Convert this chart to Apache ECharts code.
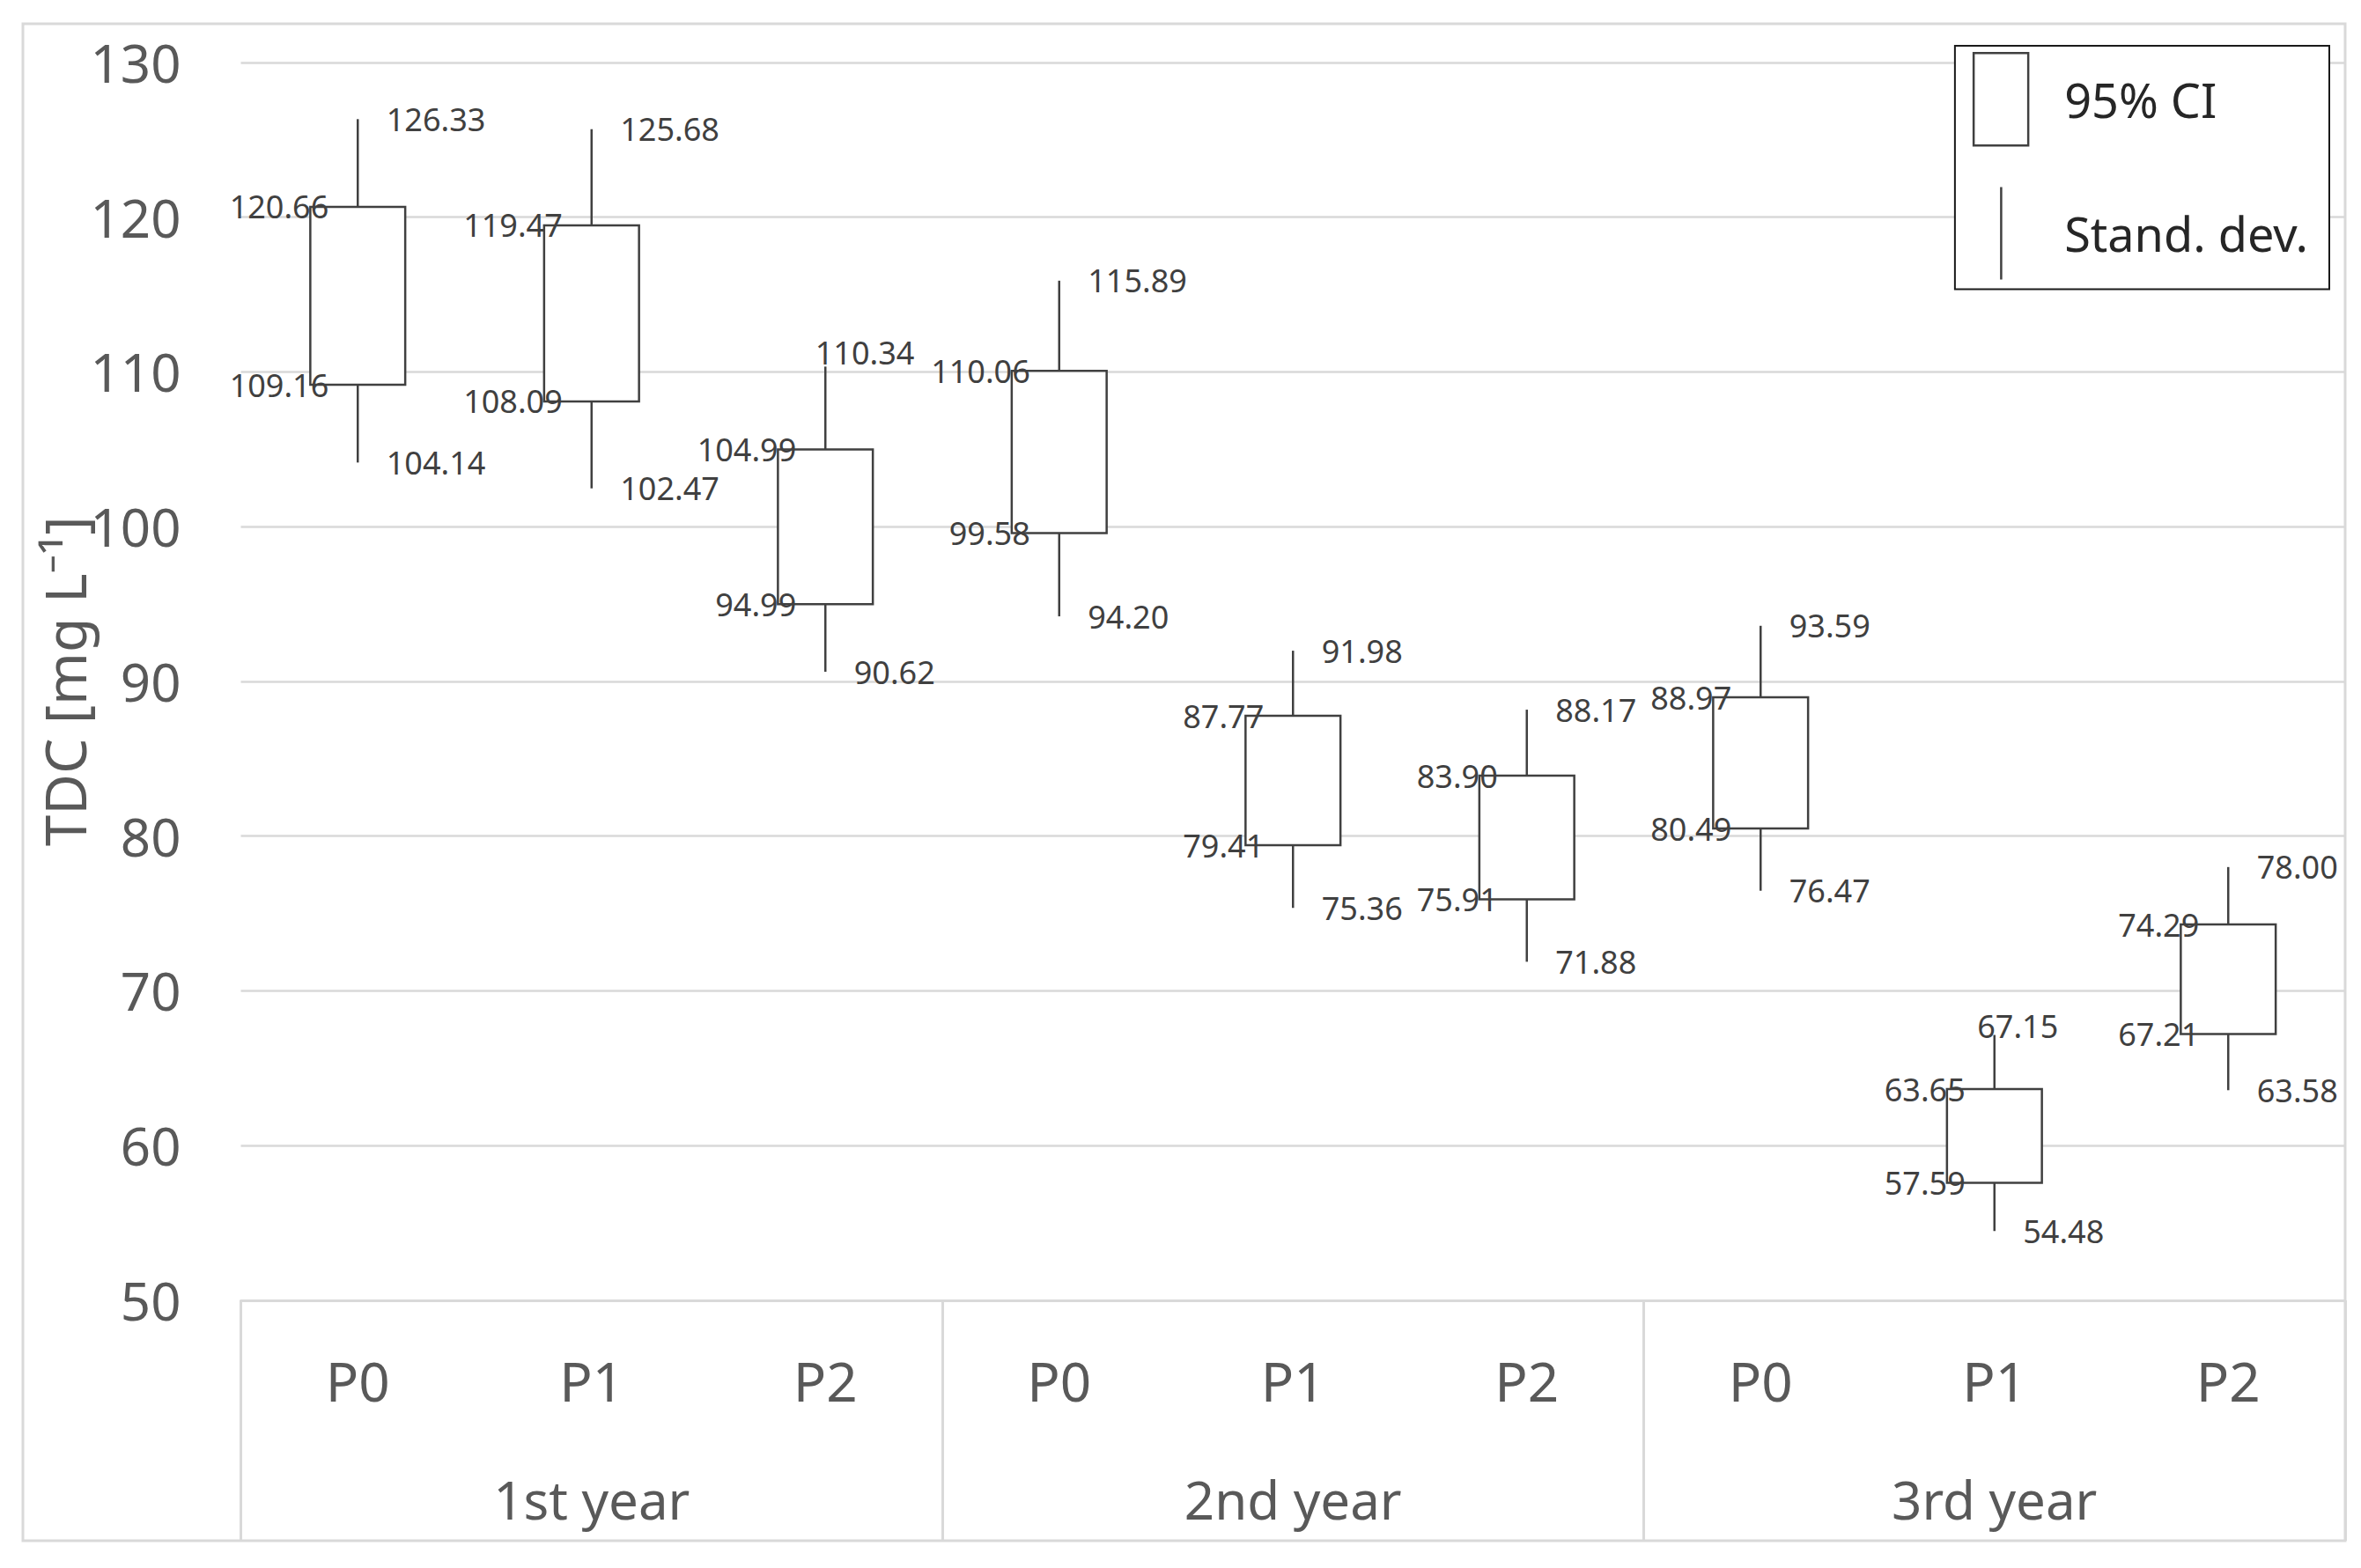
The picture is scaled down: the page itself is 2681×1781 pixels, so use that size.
<!DOCTYPE html>
<html>
<head>
<meta charset="utf-8">
<script src="https://cdn.jsdelivr.net/npm/echarts@6/dist/echarts.min.js"></script>
<style>
html,body{margin:0;padding:0;background:#fff;}
#chart{width:2681px;height:1781px;}
</style>
</head>
<body>
<div id="chart"></div>
<script>
// ---- data ----
const periods = ['P0', 'P1', 'P2', 'P0', 'P1', 'P2', 'P0', 'P1', 'P2'];
const years = ['1st year', '2nd year', '3rd year'];
const sdHigh = [126.33, 125.68, 110.34, 115.89, 91.98, 88.17, 93.59, 67.15, 78.00];
const ciHigh = [120.66, 119.47, 104.99, 110.06, 87.77, 83.90, 88.97, 63.65, 74.29];
const ciLow  = [109.16, 108.09, 94.99, 99.58, 79.41, 75.91, 80.49, 57.59, 67.21];
const sdLow  = [104.14, 102.47, 90.62, 94.20, 75.36, 71.88, 76.47, 54.48, 63.58];
const yTicks = [50, 60, 70, 80, 90, 100, 110, 120, 130];

// label nudges (pixels) for the two labels moved in the original
const labelNudge = { '2-sdHigh': [-44, -16], '7-sdHigh': [-52, -10] };

const FONT = '"Noto Sans", "Open Sans", sans-serif';
const INK = '#404040';
const GREY = '#595959';
const LINE = '#d9d9d9';
const fmt = v => v.toFixed(2);

const chart = echarts.init(document.getElementById('chart'), null, { renderer: 'svg' });

function lbl(text, x, y, align) {
  return {
    type: 'text', z2: 10,
    style: { text, x, y, align, verticalAlign: 'middle', fill: INK, fontSize: 36, fontFamily: FONT }
  };
}

const option = {
  backgroundColor: '#fff',
  animation: false,
  graphic: [{
    type: 'rect', silent: true, z: -1,
    shape: { x: 26, y: 27, width: 2637, height: 1723 },
    style: { fill: 'none', stroke: LINE, lineWidth: 3 }
  }],
  grid: { left: 273.5, right: 18, top: 70.8, bottom: 304, containLabel: false },
  legend: {
    orient: 'vertical', right: 36, top: 52,
    padding: [7, 24, 11, 20],
    itemWidth: 62, itemHeight: 105, itemGap: 46,
    borderColor: '#1a1a1a', borderWidth: 2,
    backgroundColor: '#fff',
    textStyle: { fontSize: 54, color: '#262626', fontFamily: FONT, padding: [0, 0, 0, 36] },
    selectedMode: false,
    data: [
      { name: '95% CI', icon: 'rect', itemStyle: { color: '#fff', borderColor: INK, borderWidth: 2.5 } },
      { name: 'Stand. dev.', icon: 'path://M0,0M62,105M30,0h2.5v105h-2.5z', itemStyle: { color: INK, borderWidth: 0 } }
    ]
  },
  xAxis: [{
    type: 'category', data: periods, position: 'bottom', boundaryGap: true,
    axisLine: { show: true, lineStyle: { color: LINE, width: 3 } },
    axisTick: { show: false },
    axisLabel: { interval: 0, margin: 60, fontSize: 62, color: GREY, fontFamily: FONT },
    splitLine: { show: false }
  }, {
    type: 'category', data: years, position: 'bottom', boundaryGap: true,
    axisLine: { show: false },
    axisTick: { show: true, interval: 0, alignWithLabel: false, length: 273, lineStyle: { color: LINE, width: 3 } },
    axisLabel: { interval: 0, margin: 196, fontSize: 60, color: GREY, fontFamily: FONT },
    splitLine: { show: false }
  }],
  yAxis: {
    type: 'value', min: yTicks[0], max: yTicks[yTicks.length - 1], interval: 10,
    name: 'TDC [mg L\u207B\u00B9]', nameLocation: 'middle', nameGap: 168, nameMoveOverlap: false,
    nameTextStyle: { fontSize: 64, color: GREY, fontFamily: FONT },
    axisLine: { show: false }, axisTick: { show: false },
    axisLabel: { margin: 68, fontSize: 60, color: GREY, fontFamily: FONT },
    splitLine: { lineStyle: { color: LINE, width: 2.5 } }
  },
  series: [{
    type: 'custom', name: 'Stand. dev.', xAxisIndex: 0, yAxisIndex: 0,
    itemStyle: { color: INK },
    encode: { x: 0, y: [1, 2, 3, 4] },
    data: periods.map((p, i) => [i, sdLow[i], ciLow[i], ciHigh[i], sdHigh[i]]),
    renderItem(params, api) {
      const i = api.value(0);
      const pLo = api.coord([i, api.value(1)]);
      const pBl = api.coord([i, api.value(2)]);
      const pBh = api.coord([i, api.value(3)]);
      const pHi = api.coord([i, api.value(4)]);
      const x = pLo[0];
      const nh = labelNudge[i + '-sdHigh'] || [0, 0];
      const nl = labelNudge[i + '-sdLow'] || [0, 0];
      return {
        type: 'group', children: [
          { type: 'line', shape: { x1: x, y1: pHi[1], x2: x, y2: pBh[1] }, style: { stroke: INK, lineWidth: 2.5 } },
          { type: 'line', shape: { x1: x, y1: pBl[1], x2: x, y2: pLo[1] }, style: { stroke: INK, lineWidth: 2.5 } },
          lbl(fmt(api.value(4)), x + 32.5 + nh[0], pHi[1] + nh[1], 'left'),
          lbl(fmt(api.value(1)), x + 32.5 + nl[0], pLo[1] + nl[1], 'left')
        ]
      };
    }
  }, {
    type: 'custom', name: '95% CI', xAxisIndex: 0, yAxisIndex: 0,
    itemStyle: { color: '#fff', borderColor: INK },
    encode: { x: 0, y: [1, 2] },
    data: periods.map((p, i) => [i, ciLow[i], ciHigh[i]]),
    renderItem(params, api) {
      const i = api.value(0);
      const lo = api.coord([i, api.value(1)]);
      const hi = api.coord([i, api.value(2)]);
      const w = api.size([1, 0])[0] * 0.406;
      const x = lo[0];
      return {
        type: 'group', children: [
          { type: 'rect', shape: { x: x - w / 2, y: hi[1], width: w, height: lo[1] - hi[1] },
            style: { fill: '#fff', stroke: INK, lineWidth: 2.5 } },
          lbl(fmt(api.value(2)), x - 33, hi[1], 'right'),
          lbl(fmt(api.value(1)), x - 33, lo[1], 'right')
        ]
      };
    }
  }]
};
chart.setOption(option);
</script>
</body>
</html>
